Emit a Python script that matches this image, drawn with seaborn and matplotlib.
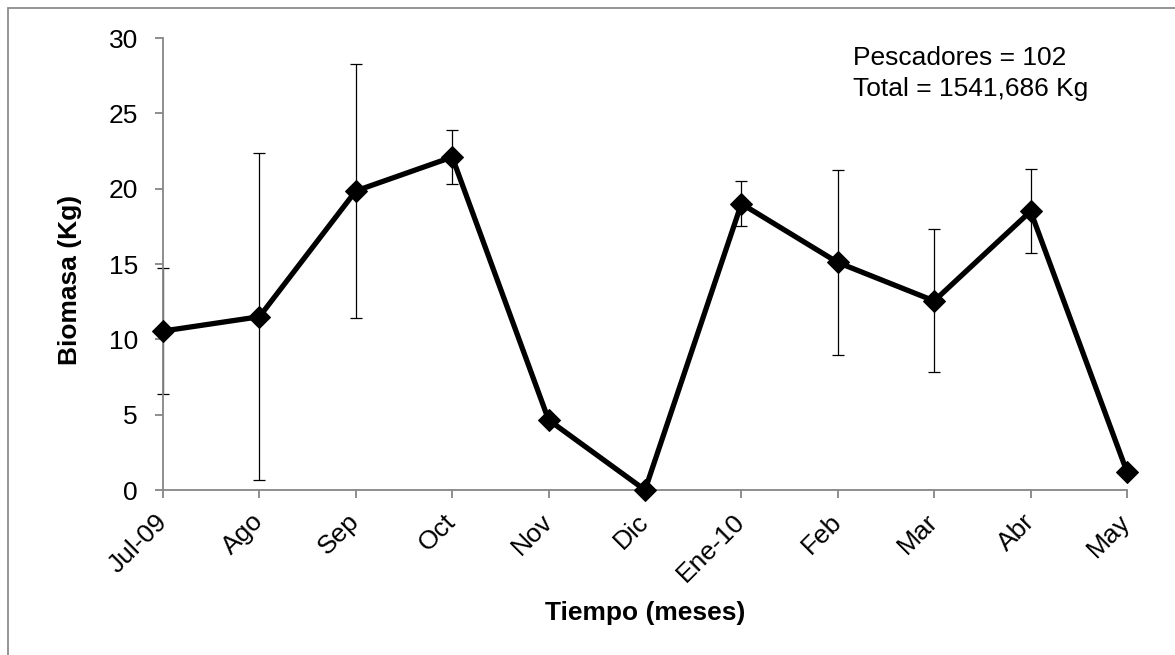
import matplotlib
matplotlib.use("Agg")
import matplotlib.pyplot as plt
import matplotlib.patches as mpatches
import numpy as np
import pandas as pd
import seaborn as sns

# Monthly mean biomass per fisher (Kg) with standard deviation
meses = ["Jul-09", "Ago", "Sep", "Oct", "Nov", "Dic",
         "Ene-10", "Feb", "Mar", "Abr", "May"]
biomasa = [10.55, 11.5, 19.85, 22.1, 4.65, 0.0, 19.0, 15.1, 12.55, 18.5, 1.2]
desviacion = [4.2, 10.85, 8.45, 1.8, np.nan, np.nan, 1.5, 6.15, 4.75, 2.8, np.nan]

yticks = [0, 5, 10, 15, 20, 25, 30]
nota = ["Pescadores = 102", "Total = 1541,686 Kg"]

df = pd.DataFrame({"mes": np.arange(len(meses)), "biomasa": biomasa,
                   "sd": desviacion})

sns.set_style("white")
plt.rcParams["font.family"] = ["Liberation Sans", "DejaVu Sans"]
plt.rcParams["text.color"] = "black"
plt.rcParams["axes.labelcolor"] = "black"

FS = 19

W, H = 1175, 655
fig = plt.figure(figsize=(W / 100, H / 100), dpi=100)
ax = fig.add_axes([163 / W, 1 - 490 / H, (1127 - 163) / W, (490 - 38) / H])

# outer chart border (left/top visible)
fig.patches.append(mpatches.Rectangle((8 / W, -0.05), 1.2, 1 - 8 / H + 0.05,
                                      transform=fig.transFigure, fill=False,
                                      edgecolor="#8c8c8c", linewidth=1.3))

grey = "#868686"

ax.errorbar(df["mes"], df["biomasa"], yerr=df["sd"], fmt="none",
            ecolor="black", elinewidth=0.9, capsize=4.3, capthick=0.9,
            zorder=2, clip_on=False)
sns.lineplot(data=df, x="mes", y="biomasa", ax=ax, color="black",
             linewidth=3.8, marker="D", markersize=11, markeredgecolor="black",
             markerfacecolor="black", zorder=3, clip_on=False)

ax.set_xlim(0, len(meses) - 1)
ax.set_ylim(0, 30)
ax.set_yticks(yticks)
ax.set_yticklabels([str(v) for v in yticks])
ax.set_xticks(df["mes"])
ax.set_xticklabels(meses, rotation=45, ha="right", va="center",
                   rotation_mode="anchor")

for s in ["top", "right"]:
    ax.spines[s].set_visible(False)
for s in ["left", "bottom"]:
    ax.spines[s].set_color(grey)
    ax.spines[s].set_linewidth(1.3)

ax.tick_params(axis="y", which="both", left=True, direction="out", length=6,
               width=1.3, color=grey, labelsize=FS, pad=12, labelcolor="black")
ax.tick_params(axis="x", which="both", bottom=True, direction="out", length=6,
               width=1.3, color=grey, labelsize=FS, pad=14, labelcolor="black")

ax.set_ylabel("Biomasa (Kg)", fontsize=FS, fontweight="bold")
ax.yaxis.set_label_coords((70 - 163) / 964, (490 - 280) / 452)
ax.yaxis.label.set_va("center")
ax.set_xlabel("Tiempo (meses)", fontsize=FS, fontweight="bold")
ax.xaxis.set_label_coords(0.5, (490 - 613) / 452)
ax.xaxis.label.set_va("center")

fig.text(853 / W, 1 - 58 / H, nota[0], fontsize=FS, va="center", ha="left")
fig.text(853 / W, 1 - 89 / H, nota[1], fontsize=FS, va="center", ha="left")

fig.savefig("out.png", dpi=100, facecolor="white")
